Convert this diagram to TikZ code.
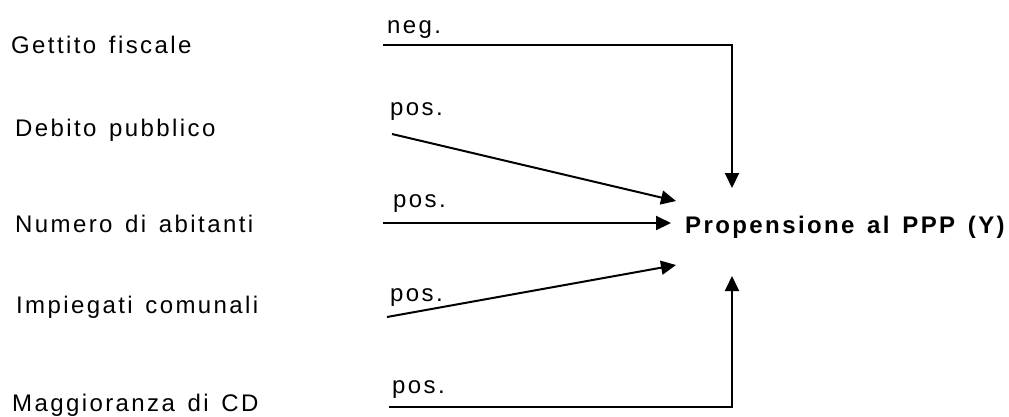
\documentclass[tikz,border=0pt]{standalone}
\usepackage{fontspec}
\setmainfont{Liberation Sans}[LetterSpace=10,WordSpace=1.4]
\usetikzlibrary{arrows.meta}
\begin{document}
\begin{tikzpicture}[x=1pt,y=-1pt,
  lbl/.style={anchor=base west,inner sep=0pt,font=\fontsize{24}{28}\selectfont},
  tgt/.style={anchor=base west,inner sep=0pt,font=\fontsize{24}{28}\selectfont\bfseries},
  conn/.style={line width=2pt},
  arr/.style={conn,-{Triangle[length=15pt,width=14pt]}}]
\useasboundingbox (0,0) rectangle (1009,416);
% variables
\node[lbl] (g) at (11,53) {Gettito fiscale};
\node[lbl] (d) at (15,136) {Debito pubblico};
\node[lbl] (n) at (15,232) {Numero di abitanti};
\node[lbl] (i) at (16,313) {Impiegati comunali};
\node[lbl] (m) at (12,411) {Maggioranza di CD};
% target
\node[tgt] (y) at (685,233) {Propensione al PPP (Y)};
% sign labels
\node[lbl] (sg) at (387,33) {neg.};
\node[lbl] (sd) at (390,115) {pos.};
\node[lbl] (sn) at (393,207) {pos.};
\node[lbl] (si) at (390,301) {pos.};
\node[lbl] (sm) at (392,393) {pos.};
% connector ends
\coordinate (g0) at (383,45);
\coordinate (g1) at (732,45);
\coordinate (gt) at (732,188);
\coordinate (d0) at (392,134);
\coordinate (dt) at (676,201);
\coordinate (n0) at (383,223);
\coordinate (nt) at (671,223);
\coordinate (i0) at (387,317);
\coordinate (it) at (676,265);
\coordinate (m0) at (389,407);
\coordinate (m1) at (732,407);
\coordinate (mt) at (732,276);
\draw[arr] (g0) -- (g1) -- (gt);
\draw[arr] (d0) -- (dt);
\draw[arr] (n0) -- (nt);
\draw[arr] (i0) -- (it);
\draw[arr] (m0) -- (m1) -- (mt);
\end{tikzpicture}
\end{document}
